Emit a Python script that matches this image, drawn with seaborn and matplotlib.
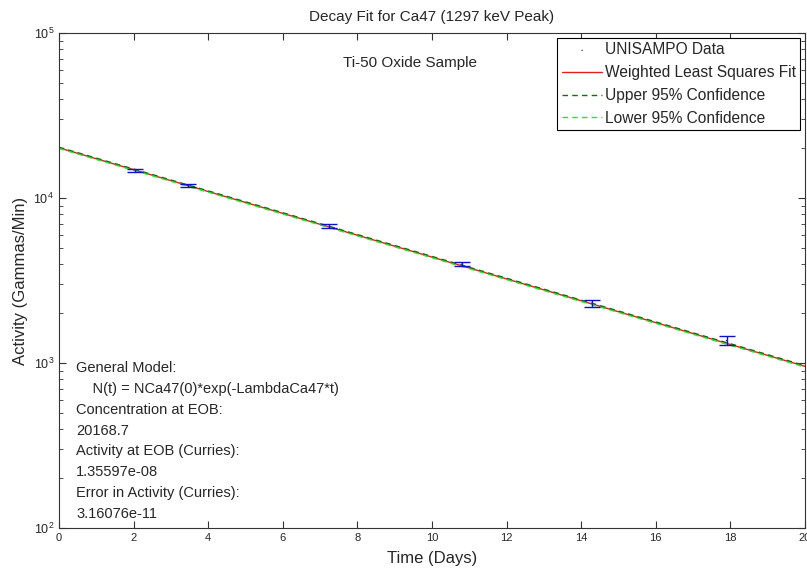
import numpy as np
import pandas as pd
import seaborn as sns
import matplotlib.pyplot as plt

days = [2.05, 3.45, 7.25, 10.8, 14.3, 17.9]
activity = [14750, 11900, 6750, 3980, 2290, 1370]
activity_err = [350, 300, 200, 130, 110, 80]

# fit and confidence curves (straight on log axis, so endpoints are enough)
fit_days = [0, 20]
fit_activity = [20168.7, 955]
upper_activity = [20350, 965]
lower_activity = [19990, 945]

info_lines = ["General Model:",
              "    N(t) = NCa47(0)*exp(-LambdaCa47*t)",
              "Concentration at EOB:",
              "20168.7",
              "Activity at EOB (Curries):",
              "1.35597e-08",
              "Error in Activity (Curries):",
              "3.16076e-11"]

sns.set_style("ticks")
plt.rcParams['font.family'] = ['Liberation Sans', 'DejaVu Sans']
plt.rcParams['mathtext.fontset'] = 'custom'
plt.rcParams['mathtext.rm'] = 'Liberation Sans'
plt.rcParams['xtick.direction'] = 'in'
plt.rcParams['ytick.direction'] = 'in'

fig = plt.figure(figsize=(8.07, 5.71), dpi=100)
ax = fig.add_axes([0.073, 0.0753, 0.9245, 0.8667])

fit_df = pd.DataFrame({"t": fit_days, "fit": fit_activity,
                       "upper": upper_activity, "lower": lower_activity})

ax.errorbar(days, activity, yerr=activity_err, fmt='none', ecolor='#1010c8',
            elinewidth=1, capsize=6, capthick=1, zorder=3)
sns.scatterplot(x=days, y=activity, ax=ax, color='#2020d0', s=4, marker='.',
                edgecolor='none', label='UNISAMPO Data', zorder=4)
sns.lineplot(data=fit_df, x="t", y="fit", ax=ax, color='#e02020', lw=1,
             label='Weighted Least Squares Fit')
sns.lineplot(data=fit_df, x="t", y="upper", ax=ax, color='#107010', lw=1,
             dashes=(4, 3), label='Upper 95% Confidence')
sns.lineplot(data=fit_df, x="t", y="lower", ax=ax, color='#30e030', lw=1,
             dashes=(4, 3), label='Lower 95% Confidence')

ax.set_yscale('log')
ax.set_xlim(0, 20)
ax.set_ylim(1e2, 1e5)
ax.set_xticks(range(0, 21, 2))
ax.tick_params(which='both', top=True, right=True, labelsize=8, color='#333333')
ax.tick_params(axis='y', which='major', labelsize=9)
ax.tick_params(which='major', length=5)
ax.tick_params(which='minor', length=3)
for sp in ax.spines.values():
    sp.set_color('#333333')

ax.set_title("Decay Fit for Ca47 (1297 keV Peak)", fontsize=11, pad=9)
ax.set_xlabel("Time (Days)", fontsize=12, labelpad=6)
ax.set_ylabel("Activity (Gammas/Min)", fontsize=12, labelpad=4)

ax.text(0.47, 0.94, "Ti-50 Oxide Sample", transform=ax.transAxes,
        fontsize=11, ha='center', va='center')
for i, line in enumerate(info_lines):
    ax.text(0.023, 0.323 - i * 0.0421, line, transform=ax.transAxes,
            fontsize=10.5, va='center', ha='left')

leg = ax.legend(loc='upper right', fontsize=11.2, frameon=True, fancybox=False,
                edgecolor='black', framealpha=1, handlelength=2.6,
                handletextpad=0.15, borderpad=0.3, labelspacing=0.5,
                borderaxespad=0.3, markerscale=1)
leg.get_frame().set_linewidth(0.8)

fig.savefig("out.png", dpi=100, facecolor='white')
